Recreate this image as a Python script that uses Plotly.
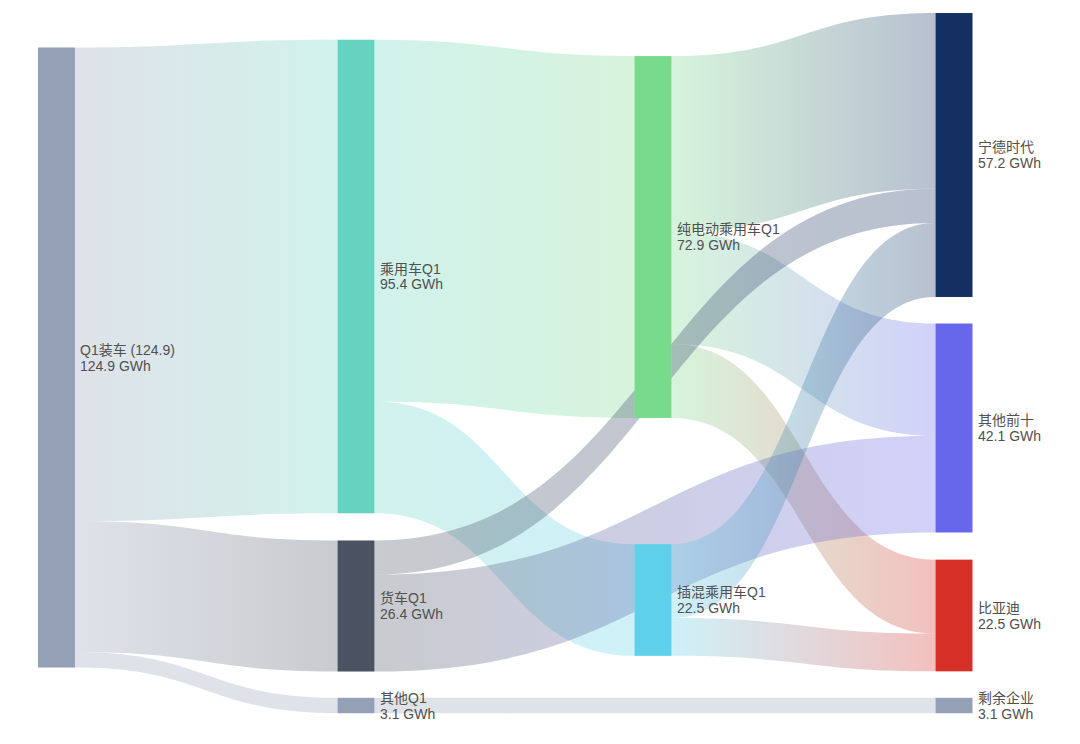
import json
import plotly.graph_objects as go

# Nodes: battery installations (GWh), Q1
node_names = ["Q1装车 (124.9)", "乘用车Q1", "货车Q1", "其他Q1",
              "纯电动乘用车Q1", "插混乘用车Q1",
              "宁德时代", "其他前十", "比亚迪", "剩余企业"]
node_values = [124.9, 95.4, 26.4, 3.1, 72.9, 22.5, 57.2, 42.1, 22.5, 3.1]
node_colors = ["#94a0b6", "#66d3c0", "#4b5261", "#94a0b6",
               "#78da8b", "#5fd0ea",
               "#142f62", "#6767ec", "#d62f28", "#94a0b6"]

# Flows between nodes
link_source = [0, 0, 0, 1, 1, 4, 4, 4, 2, 2, 5, 5, 3]
link_target = [1, 2, 3, 4, 5, 6, 7, 8, 6, 7, 6, 8, 9]
link_value = [95.4, 26.4, 3.1, 72.9, 22.5, 35.4, 22.6, 14.9, 6.9, 19.5, 14.9, 7.6, 3.1]

W, H = 1080, 744
M_TOP, M_BOT = 13, 30
plot_h = H - M_TOP - M_BOT
FONT = "Liberation Sans, Noto Sans CJK SC, sans-serif"
TEXT_COLOR = "#505050"
THICK = 37
LINE_GAP = 8  # half distance between the two label lines

# node centres in pixels (columns and vertical placement)
cx = {0: 56.5, 1: 356, 2: 356, 3: 356, 4: 653, 5: 653, 6: 954, 7: 954, 8: 954, 9: 954}
cy = {0: 357.5, 1: 276.5, 2: 606, 3: 705.5, 4: 237, 5: 600, 6: 155, 7: 428, 8: 615.5, 9: 705.5}
node_x = [cx[i] / W for i in range(len(node_names))]
node_y = [(cy[i] - M_TOP) / plot_h for i in range(len(node_names))]


def rgba(hex_color, a):
    h = hex_color.lstrip("#")
    r, g, b = int(h[0:2], 16), int(h[2:4], 16), int(h[4:6], 16)
    return f"rgba({r},{g},{b},{a})"


ALPHA = 0.3
link_colors = [rgba(node_colors[s], ALPHA) for s in link_source]

fig = go.Figure(go.Sankey(
    arrangement="fixed",
    node=dict(
        label=[""] * len(node_names),
        color=node_colors,
        x=node_x,
        y=node_y,
        pad=27,
        thickness=THICK,
        line=dict(width=0),
        hoverinfo="none",
    ),
    link=dict(
        source=link_source,
        target=link_target,
        value=link_value,
        color=link_colors,
        hoverinfo="none",
    ),
))

# node labels: name on the first line, value on the second, right of each bar
def to_paper_y(py):
    return (H - M_BOT - py) / plot_h


for i, (name, val) in enumerate(zip(node_names, node_values)):
    x = (cx[i] + THICK / 2 + 4) / W
    for text, dy in ((name, -LINE_GAP), (f"{val} GWh", LINE_GAP)):
        fig.add_annotation(
            x=x, xref="paper", xanchor="left",
            y=to_paper_y(cy[i] + dy), yref="paper", yanchor="middle",
            text=text, showarrow=False, align="left", borderpad=0,
            font=dict(family=FONT, size=14, color=TEXT_COLOR),
        )

fig.update_layout(
    width=W, height=H,
    margin=dict(l=0, r=0, t=M_TOP, b=M_BOT),
    paper_bgcolor="white",
    plot_bgcolor="white",
    font=dict(family=FONT, size=14, color=TEXT_COLOR),
)

# per-link gradient from source colour to target colour
grad_stops = [[rgba(node_colors[s], ALPHA), rgba(node_colors[t], ALPHA)]
              for s, t in zip(link_source, link_target)]

post = """
(function(){
  var gd = document.getElementById('{plot_id}');
  var stops = %s;
  var NS = 'http://www.w3.org/2000/svg';
  function ensureDefs(){
    var holder = document.getElementById('link-grad-holder');
    if(!holder){
      holder = document.createElementNS(NS, 'svg');
      holder.setAttribute('id', 'link-grad-holder');
      holder.setAttribute('width', '0'); holder.setAttribute('height', '0');
      holder.style.position = 'absolute';
      var defs = document.createElementNS(NS, 'defs');
      holder.appendChild(defs);
      for(var i = 0; i < stops.length; i++){
        var lg = document.createElementNS(NS, 'linearGradient');
        lg.setAttribute('id', 'lgrad' + i);
        lg.setAttribute('x1', '0'); lg.setAttribute('y1', '0');
        lg.setAttribute('x2', '1'); lg.setAttribute('y2', '0');
        [[0, stops[i][0]], [1, stops[i][1]]].forEach(function(s){
          var st = document.createElementNS(NS, 'stop');
          st.setAttribute('offset', s[0]);
          st.setAttribute('stop-color', s[1]);
          lg.appendChild(st);
        });
        defs.appendChild(lg);
      }
      document.body.appendChild(holder);
    }
  }
  function paint(){
    ensureDefs();
    var paths = gd.querySelectorAll('path.sankey-link');
    paths.forEach(function(el){
      var d = el.__data__;
      if(!d || !d.link) return;
      var i = d.link.pointNumber;
      if(i === undefined || i >= stops.length) return;
      el.style.fill = 'url(#lgrad' + i + ')';
      el.style.fillOpacity = 1;
    });
  }
  paint();
  if(gd.on) gd.on('plotly_afterplot', paint);
  setTimeout(paint, 30);
  setTimeout(paint, 300);
})();
""" % json.dumps(grad_stops)

fig.write_html("out.html", post_script=post)
